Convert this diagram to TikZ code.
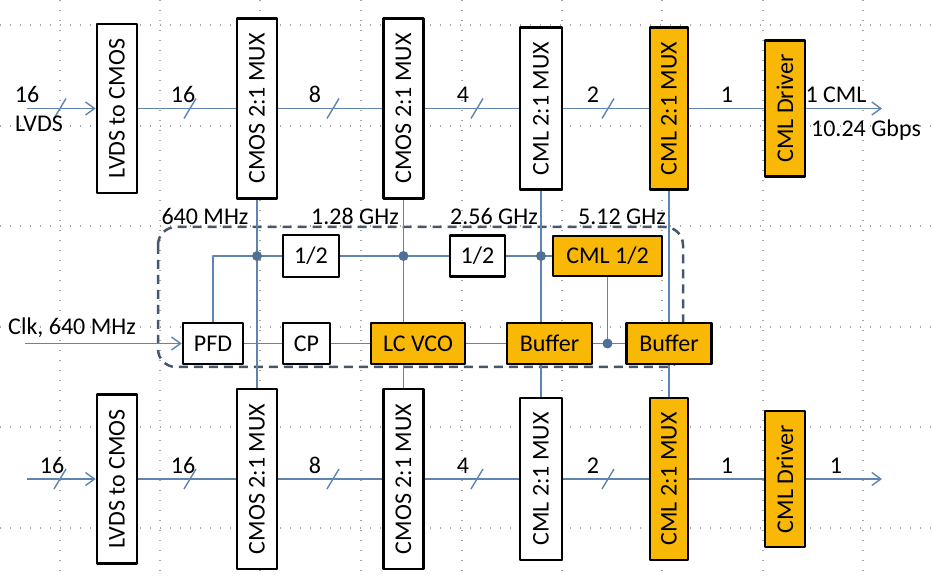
\documentclass[tikz,border=0pt]{standalone}
\usepackage{fontspec}
\setmainfont{Carlito}
\usetikzlibrary{arrows.meta}
\definecolor{sig}{HTML}{5F84B0}
\definecolor{gold}{HTML}{F9B806}
\definecolor{pll}{HTML}{46576B}
\begin{document}
\begin{tikzpicture}[x=1pt,y=-1pt,line join=round,
	font=\fontsize{24}{28}\selectfont,
	grid/.style={gray!70,line width=1.1pt,dash pattern=on 1.1pt off 8.9pt},
	wire/.style={sig,line width=1.4pt},
	arr/.style={wire,-{Straight Barb[length=9pt,width=13pt]}},
	blk/.style={draw=black,line width=2.6pt,fill=white,inner sep=0pt,minimum height=41},
	vblk/.style={blk,rotate=90,minimum height=40},
	org/.style={fill=gold},
	lbl/.style={inner sep=0pt,anchor=base}]
	\useasboundingbox (0,0) rectangle (932,577);
	% dotted grid
	\foreach \x in {60,160,260,361,462,562,662,763,863} \draw[grid] (\x,0) -- (\x,577);
	\foreach \y in {25,126,226,327,427,528} \draw[grid] (0,\y) -- (932,\y);
	% the two serializer rows
	\foreach \r/\y in {T/108.5,B/479}{
		\node[vblk,minimum width=169] (lv\r) at (117,\y) {LVDS to CMOS};
		\node[vblk,minimum width=180] (mA\r) at (257,\y) {CMOS 2:1 MUX};
		\node[vblk,minimum width=180] (mB\r) at (403.5,\y) {CMOS 2:1 MUX};
		\node[vblk,minimum width=162,minimum height=42] (mC\r) at (541,\y) {CML 2:1 MUX};
		\node[vblk,org,minimum width=162,minimum height=38] (mD\r) at (669,\y) {CML 2:1 MUX};
		\node[vblk,org,minimum width=136] (dr\r) at (785,\y) {CML Driver};
		\coordinate (in\r) at (27,\y);
		\coordinate (out\r) at (882,\y);
		\draw[arr] (in\r) -- (lv\r);
		\draw[wire] (lv\r) -- (mA\r) -- (mB\r) -- (mC\r) -- (mD\r) -- (dr\r);
		\draw[arr] (dr\r) -- (out\r);
		\foreach \x in {60,190,333,477,608} \draw[wire] (\x-6,\y+10) -- (\x+6,\y-10);
		\foreach \x/\t [count=\k] in {183/16,315/8,463/4,593/2,727/1} \node[lbl] (w\r\k) at (\x,\y-6) {\t};
	}
	\node[lbl] (n16T) at (27,103) {16};
	\node[lbl] (lvds) at (39,132) {LVDS};
	\node[lbl] (cml) at (836,103) {1 CML};
	\node[lbl] (rate) at (866,137) {10.24 Gbps};
	\node[lbl] (n16B) at (52,473) {16};
	\node[lbl] (n1B) at (836,473) {1};
	% PLL
	\draw[pll,line width=2.5pt,dash pattern=on 9pt off 6pt,rounded corners=18] (158,227) rectangle (683,367);
	\foreach \x/\t [count=\k] in {205/640 MHz,355/1.28 GHz,494/2.56 GHz,622/5.12 GHz} \node[lbl] (f\k) at (\x,225) {\t};
	\node[lbl] (clkl) at (72,335) {Clk, 640 MHz};
	\node[blk,minimum width=56,minimum height=42] (h1) at (311,256) {1/2};
	\node[blk,minimum width=55] (h2) at (477.5,256) {1/2};
	\node[blk,org,minimum width=109,minimum height=40] (h3) at (607.5,256) {CML 1/2};
	\node[blk,minimum width=60] (pfd) at (213,343.5) {PFD};
	\node[blk,minimum width=47] (cp) at (306.5,343.5) {CP};
	\node[blk,org,minimum width=94] (vco) at (418,343.5) {LC VCO};
	\node[blk,org,minimum width=85] (bf1) at (549.5,343.5) {Buffer};
	\node[blk,org,minimum width=85] (bf2) at (669,343.5) {Buffer};
	\coordinate (d1) at (257,256);
	\coordinate (d2) at (403.5,256);
	\coordinate (d3) at (541,256);
	\coordinate (d4) at (607.5,343.5);
	\coordinate (clk) at (25,343.5);
	\draw[arr] (clk) -- (pfd);
	\draw[wire] (pfd) -- (cp) -- (vco) -- (bf1) -- (d4) -- (bf2);
	\draw[wire] (pfd) |- (d1) -- (h1) -- (d2) -- (h2) -- (d3) -- (h3);
	\draw[wire] (h3) -- (d4);
	\draw[wire] (mAT) -- (mAB);
	\draw[wire] (mBT) -- (vco.north -| mBT) (vco.south -| mBT) -- (mBB);
	\draw[wire] (mCT) -- (bf1.north -| mCT) (bf1.south -| mCT) -- (mCB);
	\draw[wire] (mDT) -- (bf2) (bf2) -- (mDB);
	\foreach \i in {d1,d2,d3,d4} \fill[sig!85!black] (\i) circle (5pt);
\end{tikzpicture}
\end{document}
